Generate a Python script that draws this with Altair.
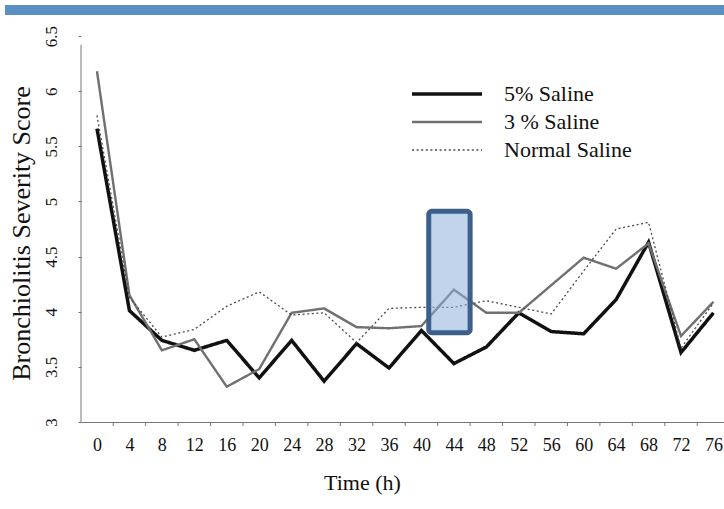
import altair as alt
import pandas as pd

# Bronchiolitis severity score over time for three nebulised treatments
hours = [0, 4, 8, 12, 16, 20, 24, 28, 32, 36, 40, 44, 48, 52, 56, 60, 64, 68, 72, 76]
saline_5 = [5.66, 4.01, 3.74, 3.65, 3.74, 3.40, 3.74, 3.37, 3.71, 3.49,
            3.83, 3.53, 3.68, 3.99, 3.82, 3.80, 4.11, 4.63, 3.63, 3.99]
saline_3 = [6.18, 4.15, 3.65, 3.75, 3.32, 3.48, 3.99, 4.03, 3.86, 3.85,
            3.87, 4.20, 3.99, 3.99, 4.24, 4.49, 4.39, 4.62, 3.78, 4.09]
saline_normal = [5.78, 4.13, 3.77, 3.84, 4.05, 4.18, 3.97, 3.99, 3.72, 4.03,
                 4.04, 4.04, 4.10, 4.04, 3.98, 4.37, 4.75, 4.81, 3.67, 4.08]
series_names = ["5% Saline", "3 % Saline", "Normal Saline"]
score_ticks = [3, 3.5, 4, 4.5, 5, 5.5, 6, 6.5]

# highlighted window around the 44 h reading
highlight_hours = [40.9, 46.0]
highlight_score = [3.81, 4.91]

rows = []
for name, vals in zip(series_names, [saline_5, saline_3, saline_normal]):
    for h, v in zip(hours, vals):
        rows.append({"hour": h, "score": v, "series": name})
df = pd.DataFrame(rows)

W, H = 643, 386
FONT = "Liberation Serif"
x_scale = alt.Scale(domain=[-1.97, 77.3], nice=False, zero=False)
y_scale = alt.Scale(domain=[3, 6.5], nice=False, zero=False)

x_axis = alt.Axis(values=hours, title="Time (h)", ticks=False,
                  labelOverlap=False, labelFont=FONT, labelFontSize=18, labelPadding=14,
                  titleFont=FONT, titleFontSize=22, titleX=281, titleY=60,
                  titleBaseline="middle")
y_axis = alt.Axis(values=score_ticks, format="~g", domain=False,
                  title="Bronchiolitis Severity Score",
                  labelAngle=-90, labelAlign="center", labelBaseline="bottom",
                  labelOverlap=False, labelFont=FONT, labelFontSize=17, labelPadding=18,
                  tickSize=3, titleFont=FONT, titleFontSize=26, titleX=-60, titleY=197,
                  titleAngle=-90, titleBaseline="middle")
legend = alt.Legend(title=None, orient="none", legendX=355, legendY=47,
                    labelFont=FONT, labelFontSize=22)

lines = alt.Chart(df).mark_line(strokeJoin="miter").encode(
    x=alt.X("hour:Q", scale=x_scale, axis=x_axis),
    y=alt.Y("score:Q", scale=y_scale, axis=y_axis),
    color=alt.Color("series:N",
                    scale=alt.Scale(domain=series_names, range=["#111111", "#707070", "#4a4a4a"]),
                    legend=legend),
    strokeDash=alt.StrokeDash("series:N",
                              scale=alt.Scale(domain=series_names, range=[[1, 0], [1, 0], [2, 2.6]]),
                              legend=legend),
    strokeWidth=alt.StrokeWidth("series:N",
                                scale=alt.Scale(domain=series_names, range=[3.5, 1.3, 2.4]),
                                legend=legend),
)

# vertical axis line, stopping a little short of the top tick
axis_df = pd.DataFrame({"lo": [score_ticks[0]], "hi": [6.42]})
y_line = alt.Chart(axis_df).mark_rule(color="#777", strokeWidth=1).encode(
    x=alt.value(0),
    y=alt.Y("lo:Q", scale=y_scale, axis=y_axis),
    y2="hi:Q",
)

# small tick marks between hour categories on the time axis
tick_df = pd.DataFrame({"edge": [h + 2 for h in hours[:-1]]})
ticks = alt.Chart(tick_df).mark_rule(color="#777", strokeWidth=1).encode(
    x=alt.X("edge:Q", scale=x_scale, axis=x_axis),
    y=alt.value(H),
    y2=alt.value(H + 4),
)

hl_df = pd.DataFrame({"h0": [highlight_hours[0]], "h1": [highlight_hours[1]],
                      "s0": [highlight_score[0]], "s1": [highlight_score[1]]})
highlight = alt.Chart(hl_df).mark_rect(
    fill="#8fb1dc", fillOpacity=0.55, stroke="#3c5f8c", strokeWidth=5, cornerRadius=3
).encode(
    x=alt.X("h0:Q", scale=x_scale, axis=x_axis), x2="h1:Q",
    y=alt.Y("s0:Q", scale=y_scale, axis=y_axis), y2="s1:Q",
)

# blue header band across the top
band = alt.Chart(pd.DataFrame({"k": [0]})).mark_rect(color="#5a90c4").encode(
    x=alt.value(-76), x2=alt.value(W), y=alt.value(-31), y2=alt.value(-21),
)

chart = alt.layer(lines, y_line, ticks, highlight, band).properties(
    width=W, height=H,
    autosize=alt.AutoSizeParams(type="none"),
    padding={"left": 81, "top": 36, "right": 0, "bottom": 87},
    background="white",
).configure(
    font=FONT,
    style={"guide-label": {"font": FONT}, "guide-title": {"font": FONT}},
).configure_view(
    stroke=None
).configure_axis(
    labelFont=FONT, titleFont=FONT, labelColor="#111", titleColor="#111",
    titleFontWeight="normal", domainColor="#777", tickColor="#777", grid=False,
    labelOverlap=False,
).configure_legend(
    labelFont=FONT, labelFontSize=22, labelColor="#111",
    symbolType="M-5,0H5", symbolSize=196, labelOffset=46,
    rowPadding=6, padding=0,
)

chart.save("out.html", embed_options={"renderer": "svg", "actions": False})
